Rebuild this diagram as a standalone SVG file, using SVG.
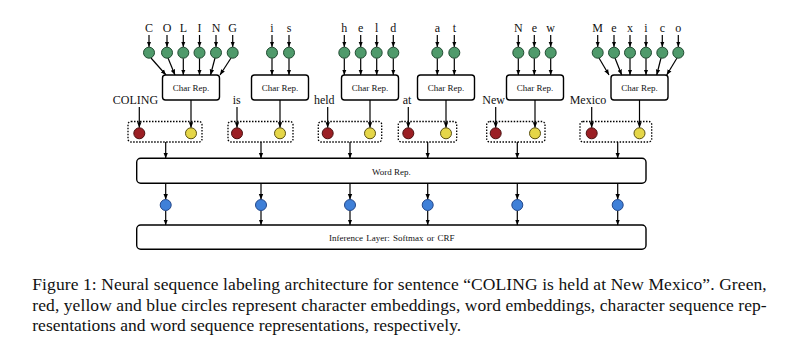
<svg xmlns="http://www.w3.org/2000/svg" width="800" height="357" viewBox="0 0 800 357">
<defs>
<marker id="ah" viewBox="0 0 10 10" refX="10" refY="5" markerWidth="5.5" markerHeight="5.5" markerUnits="userSpaceOnUse" orient="auto"><path d="M0,1 L10,5 L0,9 z" fill="#000"/></marker>
<style>
.lbl{font-family:"Liberation Serif","Times New Roman",serif;font-size:12px;fill:#111;text-anchor:middle}
.box{fill:#fff;stroke:#000;stroke-width:1.4}
.btxt{font-family:"Liberation Serif","Times New Roman",serif;font-size:9px;fill:#111;text-anchor:middle}
.dot{fill:none;stroke:#000;stroke-width:1.3;stroke-dasharray:1.5 1.5}
.g{fill:#4f9a6b;stroke:#1f4a30;stroke-width:1}
.r{fill:#9b1f24;stroke:#4a1010;stroke-width:1}
.y{fill:#e5d648;stroke:#5a5010;stroke-width:1}
.b{fill:#3f80d8;stroke:#24488a;stroke-width:1}
.ar line{stroke:#000;stroke-width:1.2;marker-end:url(#ah)}
.cap{font-family:"Liberation Serif","Times New Roman",serif;font-size:17.5px;fill:#111}
</style>
</defs>
<rect width="800" height="357" fill="#fff"/>

<g id="connectors" class="ar">
<line x1="149" y1="35" x2="149" y2="47"/><line x1="167" y1="35" x2="167" y2="47"/><line x1="183.3" y1="35" x2="183.3" y2="47"/><line x1="199.5" y1="35" x2="199.5" y2="47"/><line x1="216" y1="35" x2="216" y2="47"/><line x1="232.7" y1="35" x2="232.7" y2="47"/>
<line x1="272" y1="35" x2="272" y2="47"/><line x1="289" y1="35" x2="289" y2="47"/>
<line x1="344.3" y1="35" x2="344.3" y2="47"/><line x1="360.7" y1="35" x2="360.7" y2="47"/><line x1="376.7" y1="35" x2="376.7" y2="47"/><line x1="393.3" y1="35" x2="393.3" y2="47"/>
<line x1="437.3" y1="35" x2="437.3" y2="47"/><line x1="454.3" y1="35" x2="454.3" y2="47"/>
<line x1="518.3" y1="35" x2="518.3" y2="47"/><line x1="534.3" y1="35" x2="534.3" y2="47"/><line x1="550.7" y1="35" x2="550.7" y2="47"/>
<line x1="597.7" y1="35" x2="597.7" y2="47"/><line x1="614" y1="35" x2="614" y2="47"/><line x1="630" y1="35" x2="630" y2="47"/><line x1="646" y1="35" x2="646" y2="47"/><line x1="662.3" y1="35" x2="662.3" y2="47"/><line x1="678.3" y1="35" x2="678.3" y2="47"/>
<line x1="151" y1="58" x2="166" y2="75"/><line x1="168" y1="58" x2="175" y2="75"/><line x1="183.3" y1="58.2" x2="183.3" y2="75"/><line x1="199.5" y1="58.2" x2="199.5" y2="75"/><line x1="215" y1="58" x2="210.5" y2="75"/><line x1="231" y1="58" x2="220" y2="75"/>
<line x1="272" y1="58.2" x2="272" y2="75"/><line x1="289" y1="58.2" x2="289" y2="75"/>
<line x1="344.3" y1="58.2" x2="344.3" y2="75"/><line x1="360.7" y1="58.2" x2="360.7" y2="75"/><line x1="376.7" y1="58.2" x2="376.7" y2="75"/><line x1="393.3" y1="58.2" x2="393.3" y2="75"/>
<line x1="437.3" y1="58.2" x2="437.3" y2="75"/><line x1="454.3" y1="58.2" x2="454.3" y2="75"/>
<line x1="518.3" y1="58.2" x2="518.3" y2="75"/><line x1="534.3" y1="58.2" x2="534.3" y2="75"/><line x1="550.7" y1="58.2" x2="550.7" y2="75"/>
<line x1="599" y1="58" x2="609" y2="75"/><line x1="615" y1="58" x2="621.7" y2="75"/><line x1="630" y1="58.2" x2="630" y2="75"/><line x1="646" y1="58.2" x2="646" y2="75"/><line x1="661" y1="58" x2="656.7" y2="75"/><line x1="677" y1="58" x2="666.7" y2="75"/>
<line x1="191" y1="100" x2="191" y2="127.8"/><line x1="280" y1="100" x2="280" y2="127.8"/><line x1="370" y1="100" x2="370" y2="127.8"/><line x1="446" y1="100" x2="446" y2="127.8"/><line x1="535" y1="100" x2="535" y2="127.8"/><line x1="639.5" y1="100" x2="639.5" y2="127.8"/>
<line x1="139.3" y1="107" x2="139.3" y2="127.8"/><line x1="237" y1="107" x2="237" y2="127.8"/><line x1="327.7" y1="107" x2="327.7" y2="127.8"/><line x1="408.3" y1="107" x2="408.3" y2="127.8"/><line x1="495.7" y1="107" x2="495.7" y2="127.8"/><line x1="591.7" y1="107" x2="591.7" y2="127.8"/>
<line x1="165.7" y1="142" x2="165.7" y2="158.3"/><line x1="261" y1="142" x2="261" y2="158.3"/><line x1="350" y1="142" x2="350" y2="158.3"/><line x1="427.7" y1="142" x2="427.7" y2="158.3"/><line x1="517.3" y1="142" x2="517.3" y2="158.3"/><line x1="617.7" y1="142" x2="617.7" y2="158.3"/>
<line x1="165.7" y1="183.3" x2="165.7" y2="199.5"/><line x1="261" y1="183.3" x2="261" y2="199.5"/><line x1="350" y1="183.3" x2="350" y2="199.5"/><line x1="427.7" y1="183.3" x2="427.7" y2="199.5"/><line x1="517.3" y1="183.3" x2="517.3" y2="199.5"/><line x1="617.7" y1="183.3" x2="617.7" y2="199.5"/>
<line x1="165.7" y1="210.5" x2="165.7" y2="225"/><line x1="261" y1="210.5" x2="261" y2="225"/><line x1="350" y1="210.5" x2="350" y2="225"/><line x1="427.7" y1="210.5" x2="427.7" y2="225"/><line x1="517.3" y1="210.5" x2="517.3" y2="225"/><line x1="617.7" y1="210.5" x2="617.7" y2="225"/>
</g>

<g id="chars-COLING">
<text class="lbl" x="149" y="32">C</text><text class="lbl" x="167" y="32">O</text><text class="lbl" x="183.3" y="32">L</text><text class="lbl" x="199.5" y="32">I</text><text class="lbl" x="216" y="32">N</text><text class="lbl" x="232.7" y="32">G</text>
<circle class="g" cx="149" cy="52.7" r="5.5"/><circle class="g" cx="167" cy="52.7" r="5.5"/><circle class="g" cx="183.3" cy="52.7" r="5.5"/><circle class="g" cx="199.5" cy="52.7" r="5.5"/><circle class="g" cx="216" cy="52.7" r="5.5"/><circle class="g" cx="232.7" cy="52.7" r="5.5"/>
</g>
<g id="chars-is">
<text class="lbl" x="272" y="32">i</text><text class="lbl" x="289" y="32">s</text>
<circle class="g" cx="272" cy="52.7" r="5.5"/><circle class="g" cx="289" cy="52.7" r="5.5"/>
</g>
<g id="chars-held">
<text class="lbl" x="344.3" y="32">h</text><text class="lbl" x="360.7" y="32">e</text><text class="lbl" x="376.7" y="32">l</text><text class="lbl" x="393.3" y="32">d</text>
<circle class="g" cx="344.3" cy="52.7" r="5.5"/><circle class="g" cx="360.7" cy="52.7" r="5.5"/><circle class="g" cx="376.7" cy="52.7" r="5.5"/><circle class="g" cx="393.3" cy="52.7" r="5.5"/>
</g>
<g id="chars-at">
<text class="lbl" x="437.3" y="32">a</text><text class="lbl" x="454.3" y="32">t</text>
<circle class="g" cx="437.3" cy="52.7" r="5.5"/><circle class="g" cx="454.3" cy="52.7" r="5.5"/>
</g>
<g id="chars-New">
<text class="lbl" x="518.3" y="32">N</text><text class="lbl" x="534.3" y="32">e</text><text class="lbl" x="550.7" y="32">w</text>
<circle class="g" cx="518.3" cy="52.7" r="5.5"/><circle class="g" cx="534.3" cy="52.7" r="5.5"/><circle class="g" cx="550.7" cy="52.7" r="5.5"/>
</g>
<g id="chars-Mexico">
<text class="lbl" x="597.7" y="32">M</text><text class="lbl" x="614" y="32">e</text><text class="lbl" x="630" y="32">x</text><text class="lbl" x="646" y="32">i</text><text class="lbl" x="662.3" y="32">c</text><text class="lbl" x="678.3" y="32">o</text>
<circle class="g" cx="597.7" cy="52.7" r="5.5"/><circle class="g" cx="614" cy="52.7" r="5.5"/><circle class="g" cx="630" cy="52.7" r="5.5"/><circle class="g" cx="646" cy="52.7" r="5.5"/><circle class="g" cx="662.3" cy="52.7" r="5.5"/><circle class="g" cx="678.3" cy="52.7" r="5.5"/>
</g>

<g id="charrep-1"><rect class="box" x="162.5" y="75" width="57" height="25" rx="3"/><text class="btxt" x="191" y="90.5">Char Rep.</text></g>
<g id="charrep-2"><rect class="box" x="251.5" y="75" width="57" height="25" rx="3"/><text class="btxt" x="280" y="90.5">Char Rep.</text></g>
<g id="charrep-3"><rect class="box" x="341.5" y="75" width="57" height="25" rx="3"/><text class="btxt" x="370" y="90.5">Char Rep.</text></g>
<g id="charrep-4"><rect class="box" x="417.5" y="75" width="57" height="25" rx="3"/><text class="btxt" x="446" y="90.5">Char Rep.</text></g>
<g id="charrep-5"><rect class="box" x="506.5" y="75" width="57" height="25" rx="3"/><text class="btxt" x="535" y="90.5">Char Rep.</text></g>
<g id="charrep-6"><rect class="box" x="611" y="75" width="57" height="25" rx="3"/><text class="btxt" x="639.5" y="90.5">Char Rep.</text></g>

<g id="word-COLING"><text class="lbl" x="135.5" y="104" font-size="11.5">COLING</text><rect class="dot" x="128" y="121.5" width="74" height="20.5" rx="3"/><circle class="r" cx="139.3" cy="133.3" r="5.5"/><circle class="y" cx="191" cy="133.3" r="5.5"/></g>
<g id="word-is"><text class="lbl" x="236.7" y="104">is</text><rect class="dot" x="228" y="121.5" width="65" height="20.5" rx="3"/><circle class="r" cx="237" cy="133.3" r="5.5"/><circle class="y" cx="280" cy="133.3" r="5.5"/></g>
<g id="word-held"><text class="lbl" x="324.3" y="104">held</text><rect class="dot" x="318.3" y="121.5" width="63.4" height="20.5" rx="3"/><circle class="r" cx="327.7" cy="133.3" r="5.5"/><circle class="y" cx="370" cy="133.3" r="5.5"/></g>
<g id="word-at"><text class="lbl" x="407" y="104">at</text><rect class="dot" x="398.3" y="121.5" width="58.4" height="20.5" rx="3"/><circle class="r" cx="408.3" cy="133.3" r="5.5"/><circle class="y" cx="446" cy="133.3" r="5.5"/></g>
<g id="word-New"><text class="lbl" x="493.7" y="104">New</text><rect class="dot" x="486.7" y="121.5" width="58.3" height="20.5" rx="3"/><circle class="r" cx="495.7" cy="133.3" r="5.5"/><circle class="y" cx="535" cy="133.3" r="5.5"/></g>
<g id="word-Mexico"><text class="lbl" x="588" y="104">Mexico</text><rect class="dot" x="580" y="121.5" width="71.7" height="20.5" rx="3"/><circle class="r" cx="591.7" cy="133.3" r="5.5"/><circle class="y" cx="639.5" cy="133.3" r="5.5"/></g>

<g id="wordrep"><rect class="box" x="136.7" y="158.3" width="509.3" height="25" rx="4"/><text class="btxt" x="391.4" y="174.5">Word Rep.</text></g>

<g id="wordseq">
<circle class="b" cx="165.7" cy="205" r="5.5"/><circle class="b" cx="261" cy="205" r="5.5"/><circle class="b" cx="350" cy="205" r="5.5"/><circle class="b" cx="427.7" cy="205" r="5.5"/><circle class="b" cx="517.3" cy="205" r="5.5"/><circle class="b" cx="617.7" cy="205" r="5.5"/>
</g>

<g id="inference"><rect class="box" x="136.7" y="225" width="509.3" height="24.3" rx="4"/><text class="btxt" x="391.7" y="240.5" word-spacing="1">Inference Layer: Softmax or CRF</text></g>

<g id="caption">
<text class="cap" x="32.3" y="290" textLength="734.4" lengthAdjust="spacing">Figure 1: Neural sequence labeling architecture for sentence “COLING is held at New Mexico”. Green,</text>
<text class="cap" x="32.3" y="310.5" textLength="734.4" lengthAdjust="spacing">red, yellow and blue circles represent character embeddings, word embeddings, character sequence rep-</text>
<text class="cap" x="32.3" y="331">resentations and word sequence representations, respectively.</text>
</g>
</svg>
